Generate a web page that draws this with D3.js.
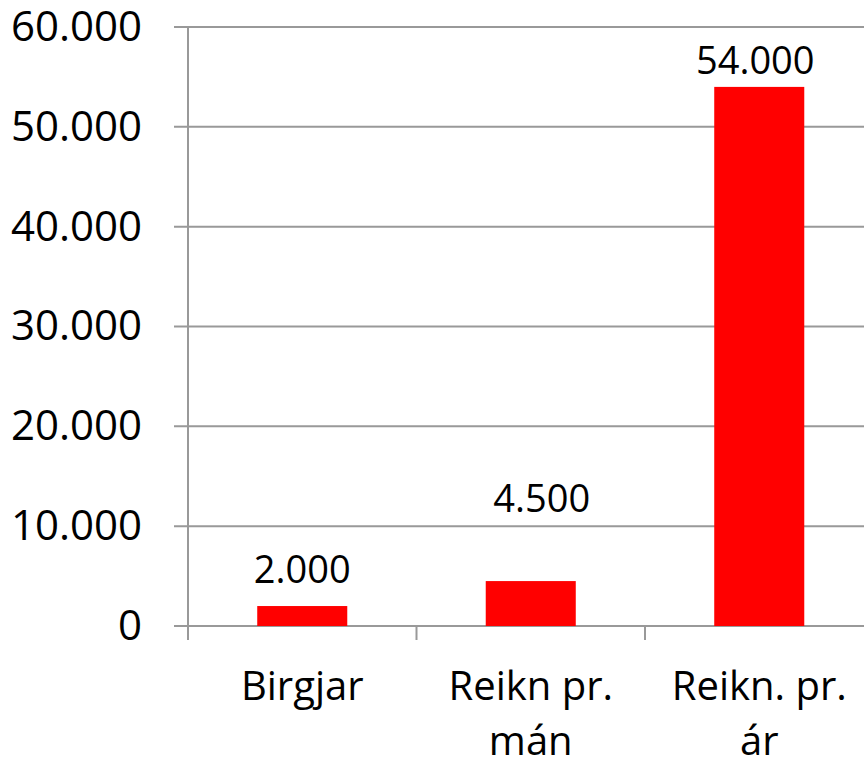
<!DOCTYPE html>
<html>
<head>
<meta charset="utf-8">
<script src="https://cdn.jsdelivr.net/npm/d3@7"></script>
<style>
  body { margin: 0; background: #fff; }
  svg { display: block; font-family: "Open Sans", sans-serif; }
</style>
</head>
<body>
<svg id="chart" width="864" height="764"></svg>
<script>
// chart data
const categories = ["Birgjar", "Reikn pr.|mán", "Reikn. pr.|ár"];
const values = [2000, 4500, 54000];
const valueLabels = ["2.000", "4.500", "54.000"];
const yTicks = [0, 10000, 20000, 30000, 40000, 50000, 60000];
const yTickLabels = ["0", "10.000", "20.000", "30.000", "40.000", "50.000", "60.000"];
// label nudges (the 4.500 label was moved by hand in the original)
const labelDy = [-23, -69, -13];
const labelDx = [0, 11, -4];

const svg = d3.select("#chart");
const plotLeft = 188, plotRight = 873.5, plotTop = 27, plotBottom = 626;
const gridColor = "#999999";

const x = d3.scaleBand()
    .domain(categories)
    .range([plotLeft, plotRight])
    .paddingInner(0.606)
    .paddingOuter(0.303);

const y = d3.scaleLinear()
    .domain([0, 60000])
    .range([plotBottom, plotTop]);

// gridlines
svg.append("g")
    .selectAll("line")
    .data(yTicks)
    .join("line")
    .attr("x1", plotLeft - 14).attr("x2", plotRight)
    .attr("y1", d => y(d)).attr("y2", d => y(d))
    .attr("stroke", gridColor)
    .attr("stroke-width", 2);

// y axis labels
const yAxis = svg.append("g")
    .attr("transform", `translate(${plotLeft},0)`)
    .call(d3.axisLeft(y)
        .tickValues(yTicks)
        .tickFormat((d, i) => yTickLabels[i])
        .tickSize(0)
        .tickPadding(46));
yAxis.select(".domain").remove();
yAxis.selectAll("text")
    .attr("font-size", 42)
    .attr("fill", "#000")
    .attr("font-family", "Open Sans, sans-serif");

// y axis line
svg.append("line")
    .attr("x1", plotLeft).attr("x2", plotLeft)
    .attr("y1", plotTop).attr("y2", plotBottom + 14)
    .attr("stroke", gridColor)
    .attr("stroke-width", 2);

// x category boundary ticks
const step = x.step();
svg.append("g")
    .selectAll("line")
    .data(d3.range(categories.length + 1))
    .join("line")
    .attr("x1", i => plotLeft + i * step).attr("x2", i => plotLeft + i * step)
    .attr("y1", plotBottom).attr("y2", plotBottom + 14)
    .attr("stroke", gridColor)
    .attr("stroke-width", 2);

// bars
svg.append("g")
    .selectAll("rect")
    .data(values)
    .join("rect")
    .attr("x", (d, i) => x(categories[i]))
    .attr("y", d => y(d))
    .attr("width", x.bandwidth())
    .attr("height", d => y(0) - y(d))
    .attr("fill", "#ff0000");

// value labels
svg.append("g")
    .selectAll("text")
    .data(values)
    .join("text")
    .attr("x", (d, i) => x(categories[i]) + x.bandwidth() / 2 + labelDx[i])
    .attr("y", (d, i) => y(d) + labelDy[i])
    .attr("text-anchor", "middle")
    .attr("font-size", 38)
    .attr("fill", "#000")
    .text((d, i) => valueLabels[i]);

// category labels (two lines where needed)
const cat = svg.append("g")
    .selectAll("text")
    .data(categories)
    .join("text")
    .attr("text-anchor", "middle")
    .attr("font-size", 40)
    .attr("fill", "#000");
cat.each(function(d) {
    const lines = d.split("|");
    const cx = x(d) + x.bandwidth() / 2;
    d3.select(this).selectAll("tspan")
        .data(lines)
        .join("tspan")
        .attr("x", cx)
        .attr("y", (l, j) => 700 + j * 55)
        .text(l => l);
});
</script>
</body>
</html>
